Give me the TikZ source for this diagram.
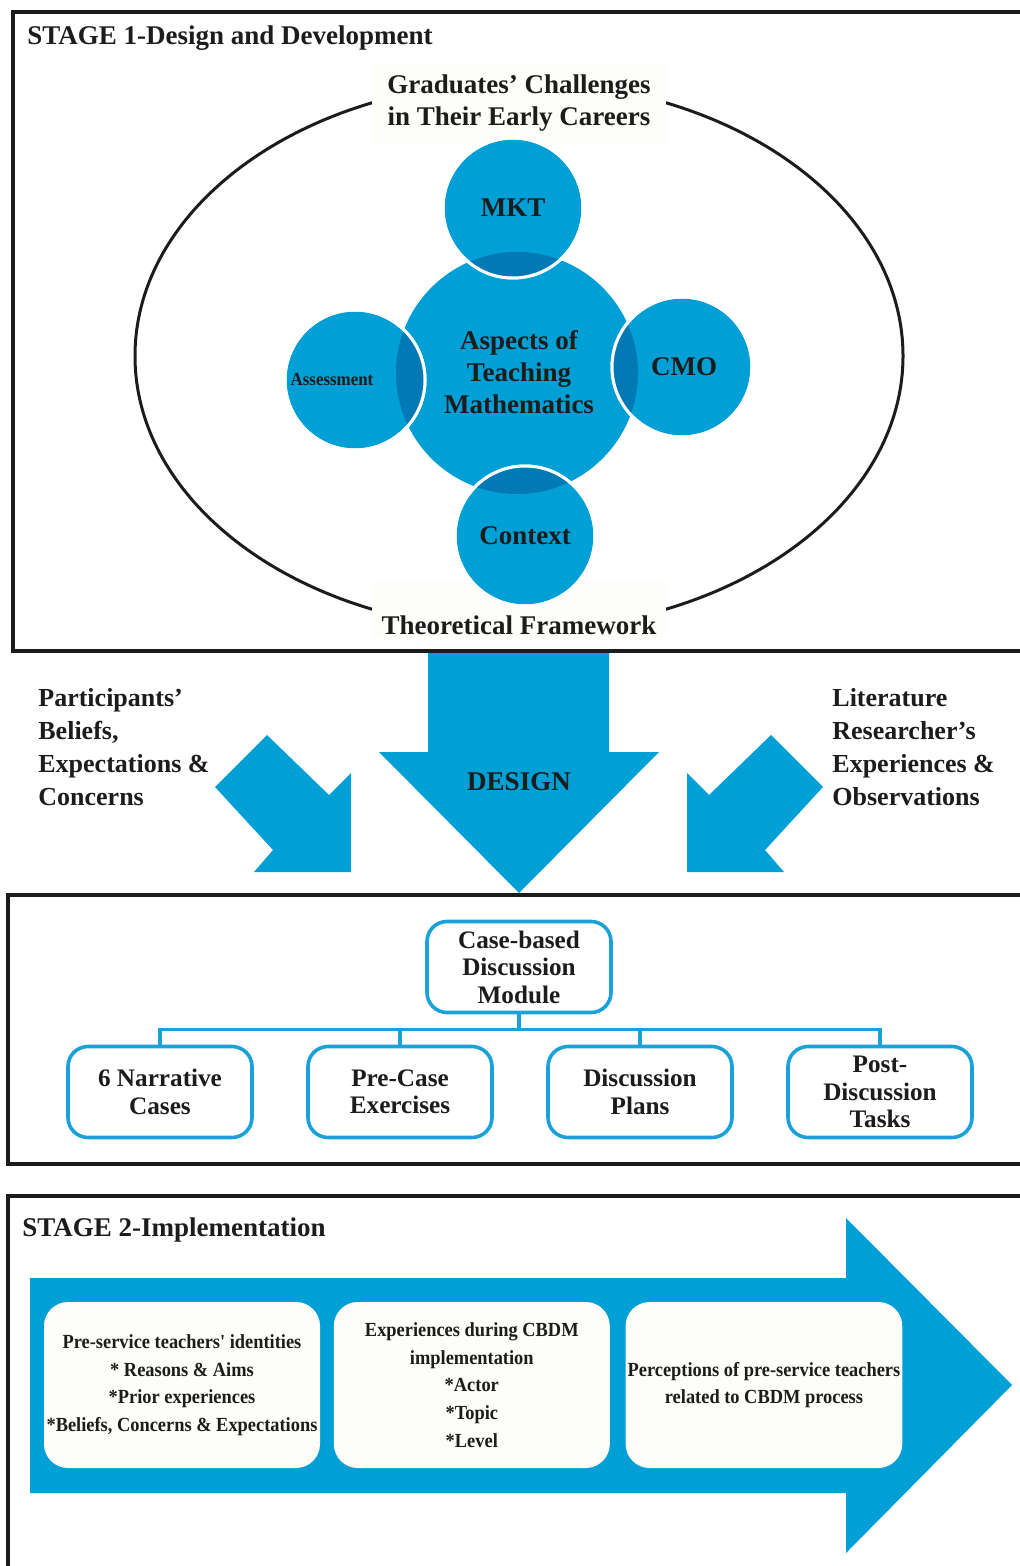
\documentclass[tikz,border=0pt]{standalone}
\usepackage{fontspec}
\setmainfont{Liberation Serif}
\newfontfamily\narrowfont[FakeStretch=0.92]{Liberation Serif}
\usetikzlibrary{positioning, calc}
\definecolor{cBlue}{HTML}{009FD5}
\definecolor{cDeep}{HTML}{0079B4}
\definecolor{cLine}{HTML}{1AA1DA}
\definecolor{cInk}{HTML}{1C1C1C}
\definecolor{cPaper}{HTML}{FDFDFA}
\tikzset{
  stageframe/.style={draw=cInk, line width=2pt},
  heading/.style={anchor=west, inner sep=0pt, text=cInk,
    font=\fontsize{13.5}{16}\selectfont\bfseries},
  tag/.style={fill=cPaper, inner sep=2pt, align=center, text=cInk,
    font=\fontsize{13.5}{16}\selectfont\bfseries},
  hub/.style={circle, fill=cBlue, inner sep=0pt, minimum size=121pt},
  petal/.style={circle, fill=cBlue, draw=white, line width=1.5pt,
    inner sep=0pt, minimum size=70pt},
  ctext/.style={align=center, text=cInk, font=\fontsize{13.5}{16}\selectfont\bfseries},
  sidetext/.style={anchor=north west, inner sep=0pt, align=left, text=cInk,
    font=\fontsize{13}{16.5}\selectfont\bfseries},
  blockarrow/.style={fill=cBlue},
  modbox/.style={rectangle, rounded corners=10pt, draw=cLine, line width=1.8pt,
    fill=white, minimum width=92pt, minimum height=45.5pt, align=center,
    text=cInk, font=\fontsize{12.6}{13.75}\selectfont\bfseries},
  link/.style={draw=cLine, line width=1.8pt},
  stepcard/.style={rectangle, rounded corners=12pt, fill=cPaper, inner sep=1pt,
    minimum width=138pt, minimum height=83pt, align=center, text=cInk,
    font=\narrowfont\fontsize{10}{13.8}\selectfont\bfseries},
}

\begin{document}
\begin{tikzpicture}[x=0.5pt, y=-0.5pt]
  \clip (0,0) rectangle (1020,1566);

  % Stage 1
  \node[heading] (stage1) at (27,38) {STAGE 1-Design and Development};
  \coordinate (eye) at (519,356);
  \draw[line width=1.5pt, cInk] (eye) ellipse [x radius=192pt, y radius=137pt];
  \node[tag, minimum width=147pt, minimum height=40pt] (grad) at (519,103)
    {Graduates' Challenges\\in Their Early Careers};
  \node[tag, minimum width=147pt, text height=24pt, anchor=base] (theo) at (519,634)
    {Theoretical Framework};

  % Aspects circles
  \node[hub]   (aspects) at (517,373) {};
  \node[petal] (mkt)  at (513,208) {};
  \node[petal] (cmo)  at (682,367) {};
  \node[petal] (asmt) at (355,380) {};
  \node[petal] (ctx)  at (525,536) {};
  \foreach \p in {mkt,cmo,asmt,ctx}{
    \begin{scope}
      \clip (\p.center) circle[radius=35pt];
      \fill[cDeep] (aspects.center) circle[radius=60.5pt];
    \end{scope}
    \draw[white, line width=1.5pt] (\p.center) circle[radius=35pt];
  }
  \node[ctext] (aspects-t) at (519,372) {Aspects of\\Teaching\\Mathematics};
  \node[ctext] (mkt-t) at (mkt) {MKT};
  \node[ctext] (cmo-t) at ([xshift=1pt]cmo.center) {CMO};
  \node[ctext, font=\narrowfont\fontsize{9.2}{11}\selectfont\bfseries] (asmt-t)
    at ([xshift=-11.5pt]asmt.center) {Assessment};
  \node[ctext] (ctx-t) at (ctx) {Context};

  % Design arrows
  \fill[blockarrow] (428,653) -- (609,653) -- (609,752) -- (659,752) -- (519,893)
    -- (379,752) -- (428,752) -- cycle;
  \fill[blockarrow] (267,735) -- (329,795) -- (351,773) -- (351,872) -- (254,872)
    -- (273,850) -- (215,787) -- cycle;
  \fill[blockarrow] (771,735) -- (709,795) -- (687,773) -- (687,872) -- (784,872)
    -- (765,850) -- (823,787) -- cycle;
  \node[ctext] (design) at (519,782) {DESIGN};
  \node[sidetext] (beliefs) at (38,688)
    {Participants'\\Beliefs,\\Expectations \&\\Concerns};
  \node[sidetext] (lit) at (832,688)
    {Literature\\Researcher's\\Experiences \&\\Observations};

  \draw[stageframe] (13,12) rectangle (1040,651);

  % Module
  \draw[stageframe] (8,895) rectangle (1040,1164);
  \node[modbox] (cbdm) at (519,967) {Case-based\\Discussion\\Module};
  \node[modbox] (cases) at (160,1092) {6 Narrative\\Cases};
  \node[modbox, right=26.2pt of cases]   (precase) {Pre-Case\\Exercises};
  \node[modbox, right=26.2pt of precase] (plans)   {Discussion\\Plans};
  \node[modbox, right=26.2pt of plans]   (post)    {Post-\\Discussion\\Tasks};
  \foreach \k in {cases,precase,plans,post}
    \draw[link] (cbdm.south) -- ++(0,15) -| (\k.north);

  % Stage 2
  \draw[stageframe] (8,1196) rectangle (1040,1600);
  \node[heading] (stage2) at (22,1230) {STAGE 2-Implementation};
  \fill[blockarrow] (30,1278) -- (846,1278) -- (846,1218) -- (1012,1385)
    -- (846,1553) -- (846,1493) -- (30,1493) -- cycle;
  \node[stepcard] (ident) at (182,1385)
    {Pre-service teachers' identities\\{}* Reasons \& Aims\\{}*Prior experiences\\{}*Beliefs, Concerns \& Expectations};
  \node[stepcard, right=6.5pt of ident] (exper)
    {Experiences during CBDM\\implementation\\{}*Actor\\{}*Topic\\{}*Level};
  \node[stepcard, right=7.5pt of exper] (percep)
    {Perceptions of pre-service teachers\\related to CBDM process};

\end{tikzpicture}
\end{document}
